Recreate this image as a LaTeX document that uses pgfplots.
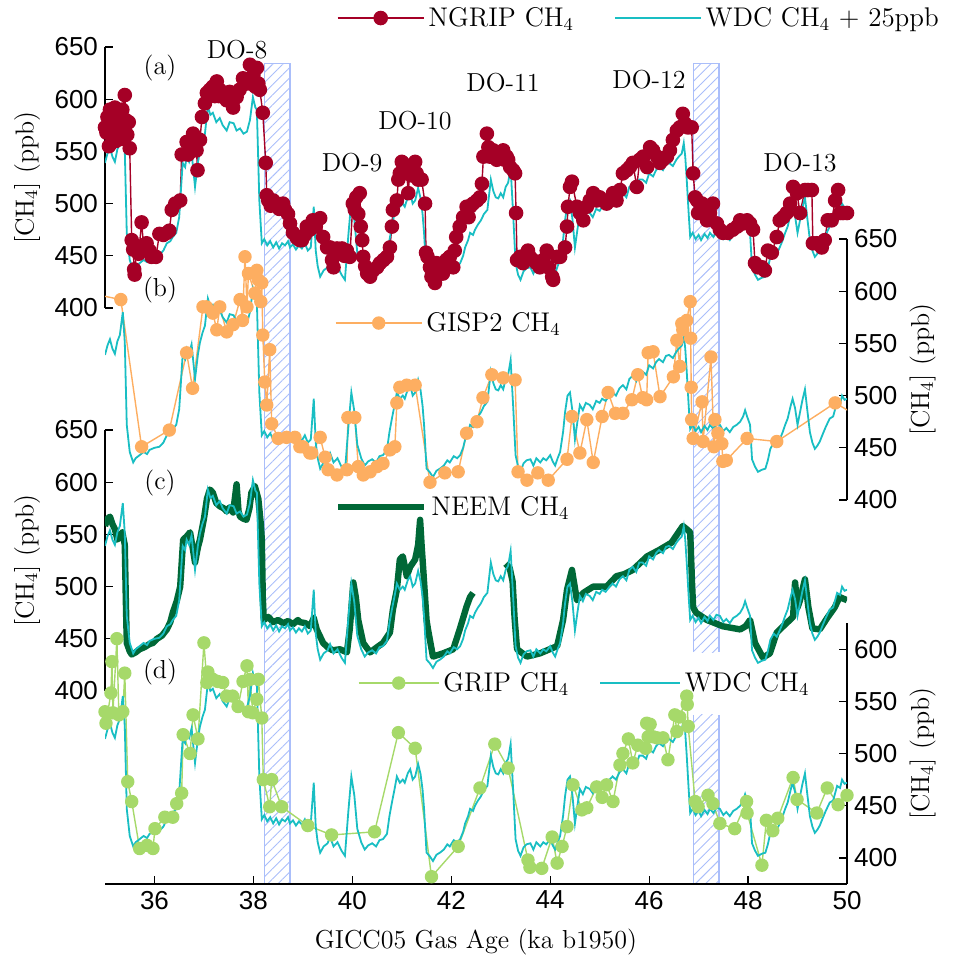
\documentclass[border=0pt]{standalone}
\usepackage{fontspec}
\usepackage{pgfplots}
\pgfplotsset{compat=1.18}
\usepackage{pgfplotstable}
\usetikzlibrary{patterns.meta}
\newfontfamily\tickfont{Liberation Sans}

\definecolor{ngrip}{RGB}{165,0,38}
\definecolor{wdc}{RGB}{25,190,195}
\definecolor{gisp}{RGB}{253,174,97}
\definecolor{neem}{RGB}{0,104,55}
\definecolor{grip}{RGB}{166,217,106}
\definecolor{hatch}{RGB}{170,190,250}

% WDC CH4 (ppb), synchronised to GICC05 gas age
\pgfplotstableread{
x y
35.00 514
35.05 523
35.10 529
35.15 520
35.20 515
35.25 527
35.30 533
35.36 555
35.40 526
35.44 447
35.50 421
35.57 411
35.62 415
35.70 418
35.78 421
35.85 419
35.90 423
36.00 425
36.10 426
36.18 430
36.25 437
36.32 439
36.37 443
36.44 447
36.50 462
36.57 514
36.62 510
36.65 520
36.70 515
36.75 524
36.82 491
36.88 515
36.92 526
36.97 535
37.02 542
37.08 568
37.13 560
37.18 562
37.25 553
37.32 557
37.38 550
37.46 545
37.52 553
37.60 552
37.66 545
37.73 547
37.80 542
37.87 544
37.93 555
37.99 577
38.04 567
38.07 565
38.12 478
38.17 437
38.22 441
38.28 435
38.34 439
38.40 433
38.46 438
38.52 432
38.58 437
38.64 435
38.70 439
38.74 433
38.80 436
38.86 431
38.92 435
38.98 432
39.04 437
39.10 430
39.16 433
39.22 472
39.26 430
39.30 415
39.35 405
39.42 411
39.50 414
39.55 420
39.62 411
39.70 415
39.78 407
39.85 402
39.92 445
39.98 478
40.04 460
40.10 428
40.18 415
40.25 408
40.32 412
40.40 414
40.48 411
40.55 417
40.62 418
40.70 423
40.75 440
40.80 453
40.85 465
40.90 478
40.96 472
41.02 475
41.06 472
41.12 481
41.17 485
41.22 475
41.27 478
41.33 490
41.38 480
41.42 465
41.45 447
41.50 405
41.56 402
41.63 397
41.70 403
41.77 405
41.85 408
41.92 413
41.97 411
42.05 417
42.12 415
42.18 418
42.24 425
42.28 433
42.34 440
42.38 447
42.44 445
42.48 450
42.54 455
42.60 459
42.66 465
42.73 469
42.80 498
42.85 487
42.90 481
42.95 480
43.00 485
43.05 481
43.10 491
43.15 495
43.20 509
43.25 466
43.30 418
43.35 407
43.40 402
43.46 410
43.52 413
43.60 414
43.66 408
43.72 415
43.80 411
43.86 415
43.92 413
44.00 418
44.05 412
44.10 408
44.15 415
44.20 421
44.26 440
44.30 459
44.35 475
44.40 478
44.45 460
44.50 433
44.55 450
44.60 466
44.66 461
44.72 468
44.80 466
44.86 462
44.93 470
45.00 468
45.05 472
45.12 470
45.20 475
45.26 478
45.33 475
45.40 482
45.47 485
45.54 481
45.60 491
45.67 494
45.74 489
45.80 498
45.87 498
45.94 495
46.00 504
46.08 501
46.14 507
46.20 510
46.28 507
46.34 513
46.40 514
46.48 511
46.55 517
46.60 520
46.66 523
46.70 533
46.73 520
46.76 498
46.80 465
46.83 443
46.88 447
46.94 441
47.00 445
47.05 440
47.12 446
47.18 442
47.23 447
47.30 443
47.36 448
47.43 447
47.50 441
47.56 444
47.63 440
47.70 445
47.77 447
47.84 450
47.90 455
47.94 461
47.98 455
48.04 447
48.08 414
48.14 407
48.20 402
48.28 404
48.35 405
48.40 413
48.45 424
48.52 430
48.58 427
48.64 433
48.70 440
48.75 447
48.80 453
48.86 465
48.90 472
48.95 463
49.00 447
49.05 459
49.10 471
49.15 481
49.20 460
49.25 440
49.30 430
49.35 424
49.40 427
49.45 431
49.50 437
49.57 445
49.65 453
49.72 455
49.80 469
49.86 467
49.90 475
49.95 471
50.00 472
}\wdc

% NGRIP CH4 (ppb)
\pgfplotstableread{
x y
35.00 573
35.03 568
35.05 583
35.08 555
35.10 590
35.13 580
35.15 588
35.18 570
35.20 592
35.22 560
35.25 585
35.28 575
35.30 578
35.33 562
35.35 590
35.40 604
35.42 580
35.45 566
35.48 578
35.50 553
35.54 465
35.57 456
35.59 437
35.60 432
35.64 458
35.68 452
35.74 482
35.78 460
35.84 462
35.90 455
35.94 449
36.03 449
36.10 471
36.18 470
36.25 472
36.30 474
36.35 494
36.42 500
36.52 503
36.55 547
36.65 559
36.68 547
36.72 558
36.78 567
36.85 551
36.87 532
36.92 561
36.96 583
37.02 596
37.06 606
37.12 609
37.18 612
37.22 603
37.26 617
37.30 603
37.32 609
37.39 606
37.46 599
37.52 607
37.59 592
37.66 602
37.72 609
37.79 620
37.86 615
37.93 633
37.96 615
38.00 623
38.04 612
38.07 630
38.10 615
38.13 609
38.19 587
38.25 539
38.27 508
38.30 503
38.35 498
38.40 503
38.47 500
38.52 495
38.60 500
38.64 494
38.70 490
38.74 481
38.80 472
38.88 467
38.94 465
38.98 465
39.04 470
39.08 478
39.14 475
39.20 484
39.26 478
39.35 486
39.41 468
39.49 458
39.55 458
39.59 446
39.62 439
39.69 457
39.74 452
39.79 457
39.84 450
39.89 455
39.95 449
40.01 500
40.05 494
40.08 506
40.12 490
40.15 510
40.17 478
40.20 465
40.22 449
40.26 440
40.30 433
40.36 430
40.42 436
40.50 439
40.56 443
40.63 446
40.70 449
40.76 458
40.80 478
40.82 494
40.90 503
40.93 523
40.96 529
41.00 540
41.02 539
41.06 532
41.10 529
41.13 510
41.16 529
41.20 527
41.23 532
41.27 540
41.30 529
41.33 523
41.40 523
41.47 500
41.49 453
41.52 449
41.57 439
41.60 430
41.63 433
41.67 424
41.70 443
41.77 436
41.83 433
41.90 446
41.97 449
42.04 439
42.07 455
42.10 468
42.17 478
42.24 487
42.31 497
42.35 487
42.38 497
42.44 500
42.52 503
42.58 506
42.62 519
42.65 545
42.72 567
42.75 554
42.78 545
42.85 551
42.92 542
42.98 545
43.05 551
43.08 542
43.12 545
43.15 542
43.19 535
43.25 532
43.29 529
43.31 491
43.33 446
43.39 449
43.45 443
43.52 452
43.55 455
43.59 449
43.65 446
43.72 443
43.79 439
43.86 446
43.93 455
43.96 439
44.04 430
44.06 427
44.14 449
44.20 449
44.30 458
44.34 478
44.36 497
44.40 516
44.44 521
44.54 497
44.60 491
44.67 484
44.74 497
44.80 503
44.87 510
44.94 503
45.00 506
45.07 503
45.14 500
45.21 503
45.27 510
45.34 503
45.41 513
45.47 529
45.55 532
45.61 535
45.67 539
45.75 516
45.81 542
45.88 545
45.96 535
46.02 554
46.08 551
46.16 545
46.22 539
46.28 542
46.36 545
46.42 551
46.48 561
46.56 570
46.62 573
46.68 586
46.72 577
46.78 573
46.86 573
46.89 529
46.93 506
46.97 503
46.99 491
47.07 500
47.09 494
47.17 484
47.23 491
47.29 500
47.37 481
47.43 475
47.49 472
47.59 472
47.69 475
47.78 478
47.84 484
47.90 481
47.98 484
48.04 481
48.10 475
48.14 443
48.20 439
48.28 439
48.34 436
48.40 455
48.48 453
48.58 468
48.64 484
48.71 487
48.78 491
48.85 500
48.91 516
48.99 510
49.05 491
49.15 513
49.21 513
49.29 513
49.31 462
49.39 462
49.49 458
49.55 465
49.61 484
49.69 484
49.76 503
49.82 513
49.86 491
49.92 491
50.00 491
}\ngrip

% GISP2 CH4 (ppb)
\pgfplotstableread{
x y
35.32 592
35.74 451
36.30 467
36.65 541
36.77 507
36.98 585
37.05 585
37.18 579
37.26 563
37.32 585
37.46 561
37.59 568
37.73 592
37.78 572
37.83 633
37.87 585
37.90 617
38.03 598
38.07 620
38.10 611
38.15 590
38.17 608
38.19 558
38.23 513
38.27 491
38.33 544
38.37 473
38.50 459
38.67 460
38.84 460
38.94 451
39.00 451
39.14 445
39.18 445
39.35 460
39.45 441
39.51 429
39.69 424
39.89 429
39.91 479
40.05 479
40.12 432
40.22 424
40.36 427
40.50 432
40.62 435
40.76 448
40.86 451
40.90 493
40.96 508
41.10 510
41.27 510
41.57 417
41.87 426
42.14 427
42.31 464
42.52 475
42.64 498
42.82 520
43.05 517
43.29 515
43.35 427
43.53 419
43.75 426
43.96 419
44.34 439
44.44 480
44.60 445
44.74 477
44.87 436
45.05 480
45.17 503
45.32 483
45.47 483
45.65 496
45.77 520
45.87 498
45.95 496
45.98 541
46.08 542
46.22 499
46.49 518
46.56 553
46.62 528
46.66 569
46.68 563
46.76 572
46.83 590
46.84 555
46.85 508
46.86 477
46.89 459
47.07 494
47.09 456
47.25 537
47.31 451
47.33 477
47.39 464
47.47 454
47.49 437
47.56 438
47.98 459
48.58 456
49.76 493
}\gisp

% NEEM CH4 (ppb); nan marks a gap in the record
\pgfplotstableread{
x y
35.00 558
35.05 565
35.10 567
35.15 560
35.20 555
35.25 545
35.30 548
35.35 552
35.40 540
35.42 490
35.44 446
35.50 438
35.54 435
35.62 437
35.70 440
35.80 442
35.90 445
35.97 446
36.05 450
36.15 453
36.25 459
36.32 466
36.37 475
36.45 486
36.52 500
36.58 545
36.65 548
36.72 552
36.78 535
36.82 523
36.88 538
36.92 545
37.00 565
37.06 584
37.12 593
37.18 590
37.25 580
37.32 577
37.40 575
37.46 572
37.52 576
37.59 571
37.66 598
37.70 572
37.73 567
37.80 565
37.86 564
37.92 575
37.96 590
38.03 596
38.10 584
38.15 560
38.17 545
38.19 490
38.21 468
38.30 471
38.40 466
38.50 468
38.60 465
38.70 467
38.80 464
38.90 468
38.94 466
39.05 465
39.15 462
39.22 470
39.28 459
39.41 446
39.50 442
39.60 439
39.75 440
39.89 437
39.95 460
40.02 504
40.07 490
40.12 468
40.22 446
40.36 437
40.50 442
40.62 446
40.76 456
40.82 478
40.90 497
40.96 526
41.02 529
41.10 510
41.17 519
41.27 526
41.33 540
41.37 564
41.40 540
41.43 519
41.47 490
41.50 468
41.53 459
41.63 433
41.83 436
42.04 440
42.17 459
42.31 481
42.38 490
42.44 494
42.46 nan
43.10 522
43.18 518
43.24 505
43.28 470
43.33 440
43.53 433
43.79 436
43.99 440
44.14 443
44.26 468
44.34 497
44.44 516
44.54 487
44.67 494
44.87 500
45.14 500
45.34 510
45.50 512
45.67 516
45.96 529
46.20 535
46.45 542
46.68 558
46.76 555
46.83 552
46.87 500
46.89 480
46.95 475
47.17 468
47.49 462
47.84 459
47.95 462
48.04 468
48.14 446
48.30 432
48.44 436
48.58 456
48.71 462
48.91 471
48.95 504
49.00 480
49.05 487
49.15 507
49.22 480
49.30 460
49.45 459
49.60 470
49.75 480
49.85 490
50.00 487
}\neem

% GRIP CH4 (ppb)
\pgfplotstableread{
x y
35.00 540
35.02 529
35.12 558
35.14 588
35.16 539
35.24 610
35.28 537
35.36 540
35.40 577
35.46 473
35.54 454
35.70 409
35.85 412
35.97 409
36.01 428
36.21 439
36.37 439
36.45 452
36.55 462
36.58 518
36.72 500
36.78 537
36.88 514
37.00 606
37.06 568
37.08 578
37.18 571
37.28 569
37.38 568
37.46 555
37.58 555
37.69 545
37.79 569
37.87 584
37.90 540
37.93 571
37.99 539
38.07 552
38.10 571
38.17 534
38.20 475
38.33 449
38.37 475
38.57 449
39.10 431
39.58 422
40.45 425
40.93 520
41.27 505
41.60 382
42.14 411
42.58 467
42.88 509
43.15 486
43.55 398
43.59 391
43.83 390
44.04 420
44.14 395
44.24 411
44.34 430
44.46 470
44.64 446
44.74 448
44.94 468
45.05 458
45.14 470
45.27 454
45.41 489
45.47 500
45.58 514
45.67 491
45.77 508
45.93 505
45.95 529
45.98 516
46.02 528
46.08 516
46.16 515
46.28 515
46.38 494
46.52 537
46.56 521
46.62 535
46.76 555
46.77 547
46.79 526
46.93 454
46.99 449
47.19 460
47.29 452
47.43 433
47.73 428
47.97 454
47.98 443
48.28 393
48.37 436
48.50 426
48.60 438
48.91 477
48.99 456
49.39 443
49.60 467
49.82 451
50.00 460
}\grip

\tikzset{
  hatched/.style={pattern={Lines[angle=45,distance=3.6pt,line width=0.45pt]}, pattern color=hatch},
  hatchedge/.style={draw=hatch, line width=0.7pt},
}

\pgfplotsset{
  base/.style={
    scale only axis, width=371pt, height=130.5pt,
    xmin=35, xmax=50,
    tick align=inside, major tick length=4pt,
    axis line style={-, line width=0.6pt},
    every tick/.style={black, line width=0.6pt},
    tick label style={font=\tickfont\fontsize{13}{15}\selectfont},
    /pgf/number format/assume math mode=true,
    label style={font=\fontsize{13}{15}\selectfont},
    legend style={draw=none, fill=none, font=\fontsize{13.5}{15}\selectfont,
      inner sep=0pt, outer sep=0pt, anchor=west},
    legend cell align=left,
    legend image code/.code={\draw[mark repeat=2,mark phase=2,##1]
      plot coordinates {(0pt,0pt) (21.5pt,0pt) (43pt,0pt)};},
  },
  leftpanel/.style={base, axis x line=none, axis y line*=left,
    ymin=400, ymax=650, ytick={400,450,...,650},
    ylabel={[CH$_4$] (ppb)},
    ylabel style={at={(axis description cs:-0.105,0.5)}, anchor=center}},
  rightpanel/.style={base, axis y line*=right,
    ylabel={[CH$_4$] (ppb)},
    ylabel style={at={(axis description cs:1.102,0.5)}, anchor=center}},
  wdcline/.style={color=wdc, line width=0.9pt},
  markline/.style={line width=0.7pt, mark=*, mark options={solid}},
}

\begin{document}
\begin{tikzpicture}

% shaded stadial intervals behind all panels
\begin{axis}[base, hide axis, clip=false, ymin=375, ymax=625, at={(52.5pt,-442pt)}, anchor=south west]
  \fill[hatched] (axis cs:38.23,375) rectangle (axis cs:38.74,1161);
  \draw[hatchedge] (axis cs:38.23,375) rectangle (axis cs:38.74,1161);
  \fill[hatched] (axis cs:46.90,597) rectangle (axis cs:47.41,1161);
  \draw[hatchedge] (axis cs:46.90,597) -- (axis cs:46.90,1161)
    -- (axis cs:47.41,1161) -- (axis cs:47.41,597);
  \fill[hatched] (axis cs:46.90,375) rectangle (axis cs:47.41,537);
  \draw[hatchedge] (axis cs:46.90,537) -- (axis cs:46.90,375);
  \draw[hatchedge] (axis cs:47.41,537) -- (axis cs:47.41,375);
\end{axis}

% (a) NGRIP
\begin{axis}[leftpanel, at={(52.5pt,-154pt)}, anchor=south west,
  legend columns=2,
  legend style={at={(axis description cs:0.3127,1.111)},
    /tikz/every even column/.append style={column sep=18pt}}]
  \addplot[markline, color=ngrip, mark size=3.3pt] table[x=x,y=y] {\ngrip};
  \addlegendentry{NGRIP CH$_4$}
  \addplot[wdcline] table[x=x, y expr=\thisrow{y}+25] {\wdc};
  \addlegendentry{WDC CH$_4$ + 25ppb}
\end{axis}

% (b) GISP2
\begin{axis}[rightpanel, axis x line=none, ymin=400, ymax=650, ytick={400,450,...,650},
  at={(52.5pt,-250pt)}, anchor=south west,
  legend style={at={(axis description cs:0.31,0.678)}}]
  \addplot[markline, color=gisp, mark size=3pt] table[x=x,y=y] {\gisp};
  \addlegendentry{GISP2 CH$_4$}
  \addplot[color=gisp, line width=0.7pt, forget plot] coordinates {(34.8,597) (35.32,592)};
  \addplot[color=gisp, line width=0.7pt, forget plot] coordinates {(49.76,493) (50.3,478)};
  \addplot[wdcline, forget plot] table[x=x, y expr=\thisrow{y}+25] {\wdc};
\end{axis}

% (c) NEEM
\begin{axis}[leftpanel, at={(52.5pt,-345.5pt)}, anchor=south west,
  legend style={at={(axis description cs:0.31,0.705)}}]
  \addplot[color=neem, line width=3.2pt, line join=round, unbounded coords=jump] table[x=x,y=y] {\neem};
  \addlegendentry{NEEM CH$_4$}
  \addplot[wdcline, forget plot] table[x=x, y expr=\thisrow{y}+25] {\wdc};
\end{axis}

% (d) GRIP
\begin{axis}[rightpanel, axis x line*=bottom, ymin=375, ymax=625, ytick={400,450,...,600},
  xtick={36,38,...,50}, at={(52.5pt,-442pt)}, anchor=south west,
  xlabel={GICC05 Gas Age (ka b1950)},
  xlabel style={at={(axis description cs:0.5,-0.222)}, anchor=center},
  legend columns=2,
  legend image code/.code={\draw[mark repeat=2,mark phase=2,#1]
      plot coordinates {(0pt,0pt) (20pt,0pt) (40pt,0pt)};},
  legend style={at={(axis description cs:0.341,0.770)},
    /tikz/every even column/.append style={column sep=13pt}}]
  \addplot[markline, color=grip, mark size=3pt] table[x=x,y=y] {\grip};
  \addlegendentry{GRIP CH$_4$}
  \addplot[wdcline] table[x=x,y=y] {\wdc};
  \addlegendentry{WDC CH$_4$}
\end{axis}

% panel letters and event labels
\begin{scope}[x=0.5pt, y=-0.5pt, every node/.style={font=\fontsize{13}{15}\selectfont}]
  \node at (160,68) {(a)};
  \node at (160,290) {(b)};
  \node at (160,483) {(c)};
  \node at (160,672) {(d)};
  \node at (237,50) {DO-8};
  \node at (352,163) {DO-9};
  \node at (415,121) {DO-10};
  \node at (503,83) {DO-11};
  \node at (649,80) {DO-12};
  \node at (800,163) {DO-13};
\end{scope}

\pgfresetboundingbox
\useasboundingbox (0pt,0pt) rectangle (477pt,-479pt);
\end{tikzpicture}
\end{document}
